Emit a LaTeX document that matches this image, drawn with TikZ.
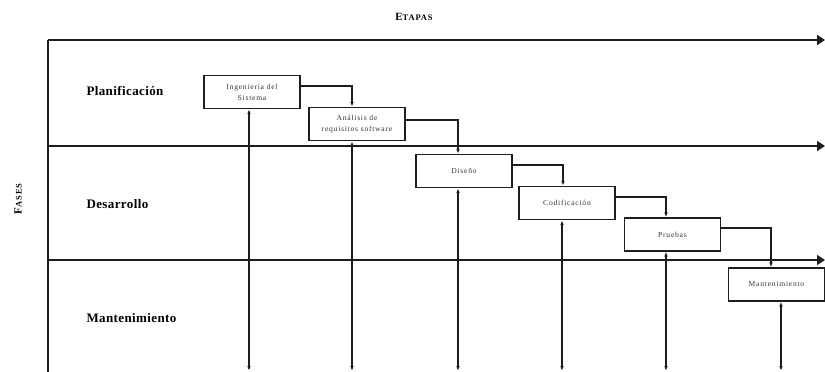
\documentclass[tikz,border=0pt]{standalone}
\usepackage{fontspec}
\setmainfont{Liberation Serif}
\usetikzlibrary{arrows.meta}
\definecolor{ink}{HTML}{1E1E1E}
\tikzset{
  lane/.style={draw=ink, line width=1.5pt, -{Triangle[length=8pt,width=10pt]}},
  frame/.style={draw=ink, line width=1.5pt},
  stage/.style={draw=ink, line width=1.3pt, minimum width=96pt, minimum height=33pt,
    inner sep=1pt, align=center, text=black!80,
    font=\fontsize{7.6}{11}\selectfont\addfontfeature{LetterSpace=10}},
  flow/.style={draw=ink, line width=1.1pt, -{Latex[length=5pt,width=3.6pt]}},
  span/.style={draw=ink, line width=1.1pt, {Latex[length=5pt,width=3.6pt]}-{Latex[length=5pt,width=3.6pt]}},
  phase/.style={anchor=west, font=\fontsize{13}{15}\selectfont\bfseries\addfontfeature{LetterSpace=3}}
}
\begin{document}
\begin{tikzpicture}[x=1pt,y=-1pt]
\useasboundingbox (0,0) rectangle (825,372);

% axis titles
\node (etapas) at (414,17) {\bfseries\addfontfeature{LetterSpace=10}{\fontsize{11}{12}\selectfont E}{\fontsize{8.5}{10}\selectfont TAPAS}};
\node[rotate=90] (fases) at (18,199) {\bfseries\addfontfeature{LetterSpace=10}{\fontsize{11}{12}\selectfont F}{\fontsize{8.5}{10}\selectfont ASES}};

% frame and lane separators
\coordinate (tl) at (48,40);
\coordinate (tr) at (825,40);
\coordinate (ml) at (48,146);
\coordinate (mr) at (825,146);
\coordinate (ll) at (48,260);
\coordinate (lr) at (825,260);
\coordinate (bl) at (48,372);
\draw[frame] (bl) -- (tl);
\draw[lane] (tl) -- (tr);
\draw[lane] (ml) -- (mr);
\draw[lane] (ll) -- (lr);

% phase labels
\node[phase] (plan) at (83,91) {Planificación};
\node[phase] (desa) at (83,204) {Desarrollo};
\node[phase] (mant) at (83,318) {Mantenimiento};

% stages
\node[stage] (ing) at (252,92) {Ingeniería del\\Sistema};
\node[stage] (ana) at (357,124) {Análisis de\\requisitos software};
\node[stage] (dis) at (464,171) {Diseño};
\node[stage] (cod) at (567,203) {Codificación};
\node[stage] (pru) at (672.5,234.5) {Pruebas};
\node[stage] (man) at (776.5,284.5) {Mantenimiento};

% cascade between stages
\draw[flow] (ing.east |- 0,86) -| (ana.north -| 352,0);
\draw[flow] (ana.east |- 0,120) -| (dis.north -| 458,0);
\draw[flow] (dis.east |- 0,165) -| (cod.north -| 563,0);
\draw[flow] (cod.east |- 0,197) -| (pru.north -| 666,0);
\draw[flow] (pru.east |- 0,228) -| (man.north -| 771,0);

% spans reaching down to maintenance
\coordinate (d1) at (249,371);
\coordinate (d2) at (352,371);
\coordinate (d3) at (458,371);
\coordinate (d4) at (562,371);
\coordinate (d5) at (666,371);
\coordinate (d6) at (781,371);
\draw[span] (ing.south -| d1) -- (d1);
\draw[span] (ana.south -| d2) -- (d2);
\draw[span] (dis.south -| d3) -- (d3);
\draw[span] (cod.south -| d4) -- (d4);
\draw[span] (pru.south -| d5) -- (d5);
\draw[span] (man.south -| d6) -- (d6);
\end{tikzpicture}
\end{document}
